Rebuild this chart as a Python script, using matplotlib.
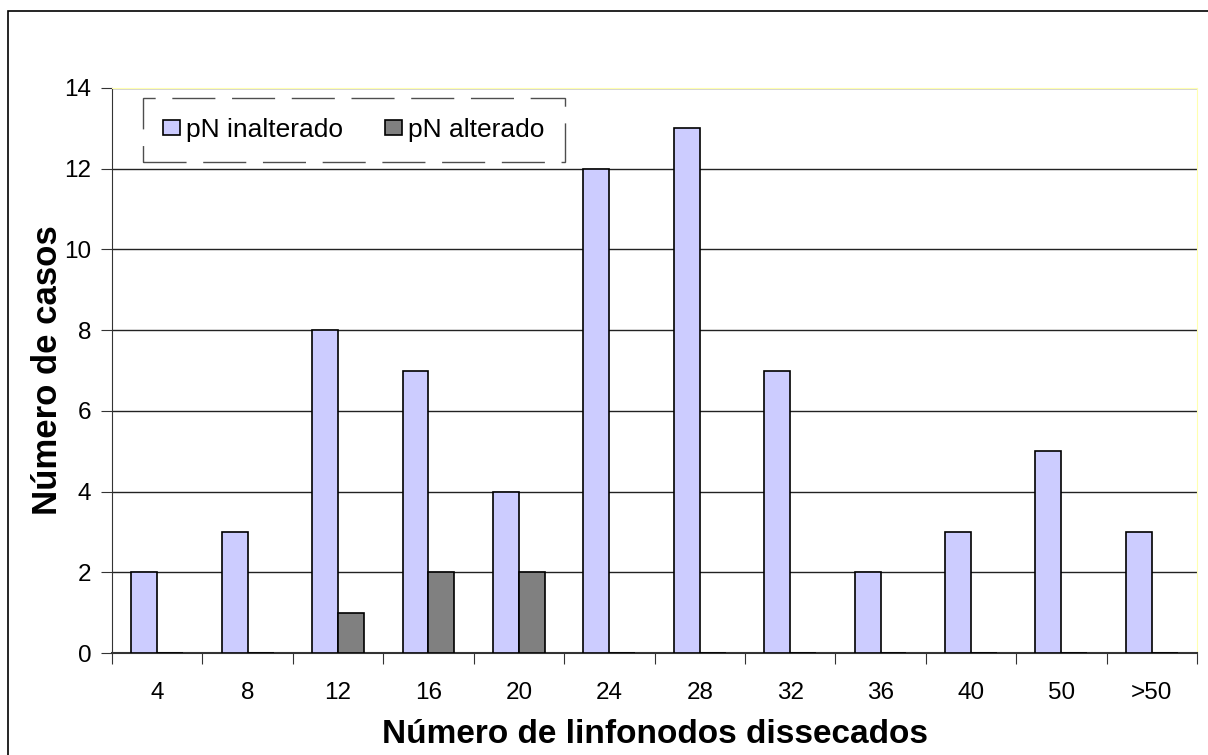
import numpy as np
import matplotlib.pyplot as plt
from matplotlib.patches import Rectangle

plt.rcParams['font.family'] = ['Liberation Sans', 'DejaVu Sans']

# Dados: casos por faixa de linfonodos dissecados
faixas = ['4', '8', '12', '16', '20', '24', '28', '32', '36', '40', '50', '>50']
pn_inalterado = [2, 3, 8, 7, 4, 12, 13, 7, 2, 3, 5, 3]
pn_alterado = [0, 0, 1, 2, 2, 0, 0, 0, 0, 0, 0, 0]

cor_inalt = '#ccccff'
cor_alt = '#808080'

fig = plt.figure(figsize=(12.08, 7.55), dpi=100)
ax = fig.add_axes([112 / 1208, 1 - 653 / 755, 1085 / 1208, 565 / 755])

x = np.arange(len(faixas))
w = 0.287
ax.bar(x - w / 2, pn_inalterado, w, color=cor_inalt, edgecolor='black',
       linewidth=1.2, label='pN inalterado', zorder=3)
ax.bar(x + w / 2, pn_alterado, w, color=cor_alt, edgecolor='black',
       linewidth=1.2, label='pN alterado', zorder=3)

ax.set_xlim(-0.5, len(faixas) - 0.5)
ax.set_ylim(0, 14)
ax.set_yticks(range(0, 15, 2))
ax.yaxis.grid(True, color='#222222', linewidth=1)
ax.set_axisbelow(True)

# ticks nas divisões das categorias, rótulos no centro
ax.set_xticks(np.arange(-0.5, len(faixas), 1))
ax.set_xticklabels([])
ax.set_xticks(x, minor=True)
ax.set_xticklabels(faixas, minor=True)
ax.tick_params(axis='x', which='major', length=8, color='#333333', direction='out')
ax.tick_params(axis='x', which='minor', length=0, pad=21, labelsize=17.5)
ax.tick_params(axis='y', length=8, color='#333333', direction='out', pad=7,
               labelsize=17.5)

for s in ['top', 'right']:
    ax.spines[s].set_color('#ffffb0')
ax.spines['left'].set_color('#333333')
ax.spines['bottom'].set_color('#333333')
ax.spines['bottom'].set_linewidth(1.5)

ax.set_xlabel('Número de linfonodos dissecados', fontsize=24, fontweight='bold',
              labelpad=11)
ax.set_ylabel('Número de casos', fontsize=25, fontweight='bold')
ax.yaxis.set_label_coords(-0.0442, 0.5)

leg = ax.legend(loc='upper left', bbox_to_anchor=(143 / 1208, 1 - 98 / 755),
                bbox_transform=fig.transFigure, ncol=2, fontsize=19,
                frameon=True, fancybox=False, handlelength=0.65,
                handleheight=0.55, handletextpad=0.23, columnspacing=1.6,
                borderpad=0.75, borderaxespad=0)
frame = leg.get_frame()
frame.set_edgecolor('#222222')
frame.set_linewidth(1)
frame.set_linestyle((0, (31, 12)))
for h in leg.legend_handles:
    h.set_linewidth(1.2)

# moldura externa do gráfico
fig.add_artist(Rectangle((8 / 1208, -0.01), 1.05, 1 - 11 / 755 + 0.01,
                         transform=fig.transFigure, fill=False,
                         edgecolor='black', linewidth=1.2))

fig.savefig('out.png', dpi=100)
